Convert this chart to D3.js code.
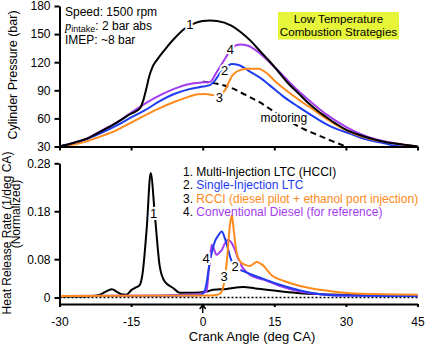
<!DOCTYPE html>
<html>
<head>
<meta charset="utf-8">
<script src="https://cdn.jsdelivr.net/npm/d3@7"></script>
<style>
  body { margin: 0; background: #fff; }
  text { font-family: "Liberation Sans", Arial, sans-serif; }
</style>
</head>
<body>
<svg id="chart"></svg>
<script>
// ticks
const crankTicks = [-30, -15, 0, 15, 30, 45]
const pressureTicks = [30, 60, 90, 120, 150, 180]
const hrrTicks = [0, 0.08, 0.18, 0.28]

// cylinder pressure [crank angle, bar]
const pMulti = [[-30, 30], [-27, 34], [-24, 39], [-21, 47], [-18, 55.5], [-15, 65], [-14, 67.5], [-13, 72], [-12.4, 80], [-11.8, 92],
  [-11.2, 105], [-10.5, 115], [-9.5, 123], [-8, 133], [-6, 145], [-4, 155], [-2, 161], [0, 164], [1.5, 164.5], [3, 164],
  [6, 159], [8, 152], [10, 143], [12, 132], [14, 121], [16, 109], [18, 97], [20, 87], [22, 77], [24, 68.5], [26, 61],
  [28, 54], [30, 48], [33, 42], [36, 37.5], [39, 34], [42, 32], [45, 30]]
const pSingle = [[-30, 30], [-27, 33.5], [-24, 38.5], [-21, 45], [-18, 52.5], [-15, 61], [-12, 69], [-9, 78.5], [-6, 86],
  [-3, 91], [0, 94], [1.5, 95.5], [2.5, 100], [3.6, 108], [5, 115], [6.1, 118], [7.5, 117], [9.9, 110], [12, 103.5],
  [14, 95.5], [17, 83], [20, 72.5], [24, 59.5], [27, 51], [31, 43.5], [34, 38], [38, 33.5], [40, 31], [42, 30], [45, 30]]
const pRcci = [[-30, 29.5], [-27, 32], [-24, 36], [-21.5, 40.5], [-18, 47.5], [-15, 55.5], [-12, 63.5], [-9, 71], [-6, 77.5],
  [-3, 83], [-1, 85.8], [0.5, 86], [2, 85], [3, 84], [4, 86.5], [4.8, 91], [5.5, 99], [6.1, 105], [7, 109.5], [7.8, 111.5],
  [9.5, 113], [11.6, 113], [13.5, 108], [15, 100.5], [17, 92], [20, 80.5], [24, 66.5], [27, 56], [31, 45], [36, 37],
  [41, 33], [44, 30.5], [45, 30]]
const pConv = [[-30, 30], [-27, 34], [-24, 39], [-21, 47.5], [-18, 55.5], [-15, 66], [-12, 76], [-9, 84.5], [-6, 91.5],
  [-3, 96.5], [0, 98.5], [1.5, 99], [3, 110], [4.7, 124], [6.1, 135], [7.8, 139], [9.5, 137.5], [11.6, 131], [14, 120],
  [16, 110], [18, 99.5], [20, 89.5], [22, 80.5], [24, 72], [26, 64], [28, 57], [30, 51], [33, 43.5], [36, 38],
  [39, 34.5], [42, 32], [45, 30]]
const pMotoring = [[0, 99], [3, 97], [6, 92.5], [9, 85], [12, 77], [15, 67], [18, 57.5], [21, 49], [24, 42.5], [27, 36], [30, 30]]

// normalized heat release rate [crank angle, 1/deg CA]
const hMulti = [[-30, 0.002], [-25, 0.002], [-23, 0.003], [-21.5, 0.006], [-20, 0.014], [-19, 0.0175], [-18, 0.012],
  [-17, 0.007], [-16, 0.006], [-15, 0.015], [-14, 0.021], [-13.2, 0.026], [-12.6, 0.05], [-11.7, 0.148], [-10.9, 0.26],
  [-10, 0.169], [-9, 0.065], [-8, 0.034], [-6.2, 0.02], [-4.8, 0.01], [-2, 0.01], [0.8, 0.0125], [2.2, 0.016], [5, 0.018],
  [8.5, 0.022], [11, 0.019], [13.4, 0.016], [17, 0.012], [20.4, 0.009], [25, 0.007], [31, 0.0055], [38, 0.0045], [45, 0.004]]
const hSingle = [[-30, 0.003], [-10, 0.003], [-2, 0.004], [-0.5, 0.005], [0.5, 0.016], [1.5, 0.075], [2.6, 0.118],
  [3.3, 0.13], [4, 0.1375], [4.6, 0.125], [5.2, 0.105], [5.8, 0.083], [6.8, 0.064], [8.5, 0.055], [10.5, 0.047],
  [12.4, 0.04], [16.2, 0.0265], [20.4, 0.0146], [24.6, 0.007], [30, 0.004], [45, 0.003]]
const hRcci = [[-30, 0.003], [0, 0.004], [2.5, 0.005], [3.6, 0.008], [4.3, 0.022], [5, 0.07], [5.7, 0.15], [6.1, 0.172],
  [6.5, 0.14], [7, 0.1], [7.8, 0.076], [8.9, 0.068], [9.9, 0.066], [11.3, 0.074], [12.5, 0.068], [14.5, 0.046],
  [16.9, 0.035], [20.4, 0.024], [24.6, 0.016], [30.9, 0.009], [38, 0.007], [45, 0.006]]
const hConv = [[-30, 0.003], [-10, 0.004], [-4, 0.006], [-1.3, 0.007], [0.8, 0.0125], [1.3, 0.06], [1.9, 0.11],
  [2.4, 0.1], [2.9, 0.089], [3.5, 0.094], [4, 0.099], [4.6, 0.112], [5.2, 0.12], [6, 0.115], [6.6, 0.103], [7.8, 0.072],
  [9.9, 0.047], [13.4, 0.035], [16.2, 0.024], [20.4, 0.0125], [24.6, 0.007], [30, 0.004], [45, 0.003]]

const legendLabels = ['Multi-Injection LTC (HCCI)', 'Single-Injection LTC',
  'RCCI (diesel pilot + ethanol port injection)', 'Conventional Diesel (for reference)']
const colors = ['#000000', '#1f3cf0', '#ff8a1c', '#a43cf0']

// curve labels [text, crank, value]
const pLabels = [['1', -2.7, 160.8], ['4', 5.8, 133.4], ['2', 4.6, 110.9], ['3', 3.5, 82.8]]
const hLabels = [['1', -10.3, 0.176], ['4', 0.7, 0.082], ['3', 4.5, 0.044], ['2', 6.8, 0.065]]

const width = 425
const height = 345
const svg = d3.select('#chart').attr('width', width).attr('height', height)

const xScale = d3.scaleLinear().domain([-30, 45]).range([59.5, 417.5])
const yP = d3.scaleLinear().domain([30, 180]).range([146.5, 6])
const yH = d3.scaleLinear().domain([-0.0135, 0.28]).range([304, 163.3])

const lineP = d3.line().x((d) => xScale(d[0])).y((d) => yP(d[1])).curve(d3.curveMonotoneX)
const lineH = d3.line().x((d) => xScale(d[0])).y((d) => yH(d[1])).curve(d3.curveMonotoneX)

const drawPath = (data, gen, color, dash) => {
  svg.append('path')
    .datum(data)
    .attr('fill', 'none')
    .attr('stroke', color)
    .attr('stroke-width', 2)
    .attr('stroke-dasharray', dash || null)
    .attr('d', gen)
}

const haloText = (txt, px, py, size) => {
  svg.append('text')
    .attr('x', px)
    .attr('y', py)
    .attr('dy', '0.35em')
    .attr('text-anchor', 'middle')
    .attr('font-size', size)
    .attr('fill', '#000')
    .attr('stroke', '#fff')
    .attr('stroke-width', 4)
    .attr('paint-order', 'stroke')
    .text(txt)
}

// top panel
drawPath(pMotoring, lineP, '#000', '6,4')
haloText('motoring', xScale(17), yP(60.8), 12)
drawPath(pSingle, lineP, colors[1])
drawPath(pRcci, lineP, colors[2])
drawPath(pConv, lineP, colors[3])
drawPath(pMulti, lineP, colors[0])
pLabels.forEach((l) => haloText(l[0], xScale(l[1]), yP(l[2]), 13))

// bottom panel
svg.append('line')
  .attr('x1', xScale(-30)).attr('x2', xScale(45))
  .attr('y1', yH(0)).attr('y2', yH(0))
  .attr('stroke', '#000').attr('stroke-width', 1.5).attr('stroke-dasharray', '2,2')
drawPath(hMulti, lineH, colors[0])
drawPath(hConv, lineH, colors[3])
drawPath(hSingle, lineH, colors[1])
drawPath(hRcci, lineH, colors[2])
hLabels.forEach((l) => haloText(l[0], xScale(l[1]), yH(l[2]), 13))

// axes
const styleAxis = (g) => {
  g.attr('font-size', 12).attr('font-family', '"Liberation Sans", Arial, sans-serif')
  g.selectAll('.domain').attr('stroke-width', 2)
  g.selectAll('.tick line').attr('stroke-width', 2)
  g.selectAll('.tick text').attr('fill', '#000')
}

svg.append('g')
  .attr('transform', 'translate(0,146.5)')
  .call(d3.axisBottom(xScale).tickValues(crankTicks).tickSize(4).tickSizeOuter(0).tickFormat(''))
  .call(styleAxis)
svg.append('g')
  .attr('transform', 'translate(59.5,0)')
  .call(d3.axisLeft(yP).tickValues(pressureTicks).tickSize(5).tickSizeOuter(0).tickPadding(4))
  .call(styleAxis)
svg.append('g')
  .attr('transform', 'translate(0,304)')
  .call(d3.axisBottom(xScale).tickValues(crankTicks).tickSize(3).tickSizeOuter(0).tickPadding(10).tickFormat((d) => String(d)))
  .call(styleAxis)
svg.append('g')
  .attr('transform', 'translate(59.5,0)')
  .call(d3.axisLeft(yH).tickValues(hrrTicks).tickSize(5).tickSizeOuter(0).tickPadding(4)
    .tickFormat((d) => (d === 0 ? '0' : d3.format('.2f')(d))))
  .call(styleAxis)

// TDC arrow
const ax = xScale(0)
svg.append('path')
  .attr('d', `M${ax},313 L${ax},305 M${ax - 3},309 L${ax},305 L${ax + 3},309`)
  .attr('fill', 'none').attr('stroke', '#000').attr('stroke-width', 1.5)

// axis titles
svg.append('text')
  .attr('transform', 'translate(16.5,75) rotate(-90)')
  .attr('text-anchor', 'middle').attr('font-size', 12.5)
  .text('Cylinder Pressure (bar)')
svg.append('text')
  .attr('transform', 'translate(10.5,233) rotate(-90)')
  .attr('text-anchor', 'middle').attr('font-size', 12)
  .text('Heat Release Rate (1/deg CA)')
svg.append('text')
  .attr('transform', 'translate(19.5,214) rotate(-90)')
  .attr('text-anchor', 'middle').attr('font-size', 12)
  .text('(Normalized)')
svg.append('text')
  .attr('x', 252).attr('y', 341)
  .attr('text-anchor', 'middle').attr('font-size', 13)
  .text('Crank Angle (deg CA)')

// operating conditions
svg.append('text').attr('x', 65).attr('y', 16).attr('font-size', 12).text('Speed: 1500 rpm')
const pt = svg.append('text').attr('x', 65).attr('y', 30).attr('font-size', 12)
pt.append('tspan').attr('font-family', '"Liberation Serif", "Times New Roman", serif').attr('font-style', 'italic').attr('font-size', 12.5).text('p')
pt.append('tspan').attr('font-size', 9).attr('dy', 2).text('intake')
pt.append('tspan').attr('dy', -2).text(': 2 bar abs')
svg.append('text').attr('x', 65).attr('y', 44).attr('font-size', 12).text('IMEP: ~8 bar')

// title box
svg.append('rect')
  .attr('x', 278).attr('y', 12).attr('width', 121).attr('height', 27.5)
  .attr('fill', '#e6f53a')
svg.append('text').attr('x', 338.5).attr('y', 22.8).attr('text-anchor', 'middle').attr('font-size', 11.6).text('Low Temperature')
svg.append('text').attr('x', 338.5).attr('y', 36).attr('text-anchor', 'middle').attr('font-size', 11.6).text('Combustion Strategies')

// legend
legendLabels.forEach((lab, i) => {
  const t = svg.append('text')
    .attr('x', 183)
    .attr('y', 176 + i * 13.3)
    .attr('font-size', 12)
  t.append('tspan').attr('fill', '#000').text(i + 1 + '. ')
  t.append('tspan').attr('fill', colors[i]).text(lab)
})
</script>
</body>
</html>
